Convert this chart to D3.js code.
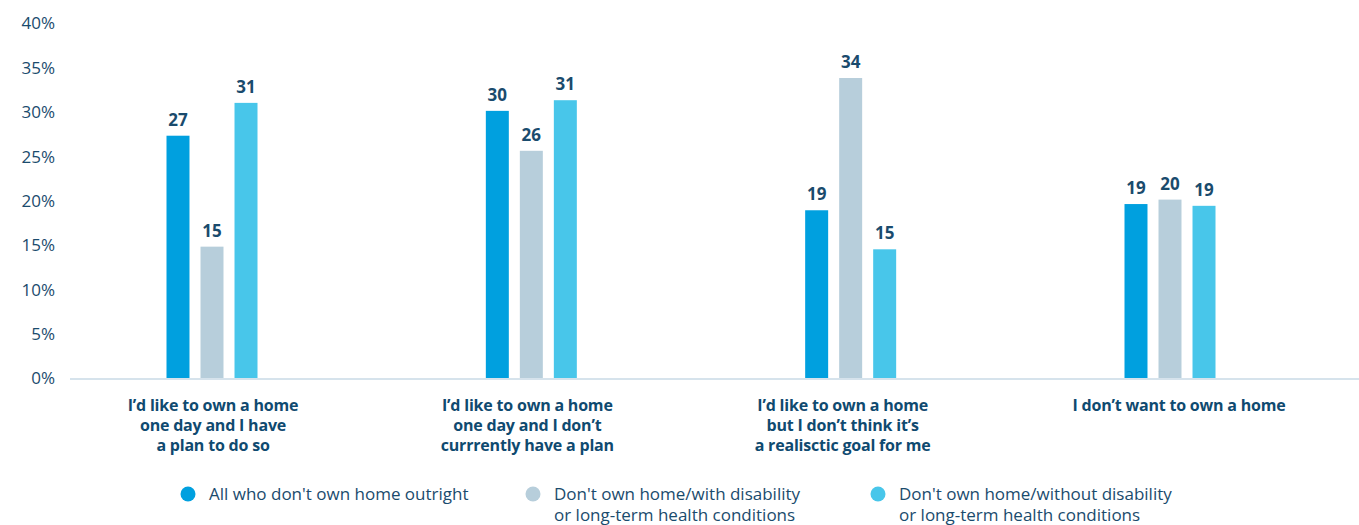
<!DOCTYPE html>
<html>
<head>
<meta charset="utf-8">
<script src="https://cdn.jsdelivr.net/npm/d3@7"></script>
<style>
  html, body { margin: 0; padding: 0; background: #fff; }
  svg { display: block; }
</style>
</head>
<body>
<svg id="chart" width="1359" height="525"></svg>
<script>
// ---- data ----
const categories = [
  ["I\u2019d like to own a home", "one day and I have", "a plan to do so"],
  ["I\u2019d like to own a home", "one day and I don\u2019t", "currrently have a plan"],
  ["I\u2019d like to own a home", "but I don\u2019t think it\u2019s", "a realisctic goal for me"],
  ["I don\u2019t want to own a home"]
];
const categoryKeys = ["plan", "noplan", "unrealistic", "dontwant"];
const seriesNames = [
  ["All who don't own home outright"],
  ["Don't own home/with disability", "or long-term health conditions"],
  ["Don't own home/without disability", "or long-term health conditions"]
];
const seriesKeys = ["all", "withDis", "withoutDis"];
// bar heights (%)
const allValues = [27.3, 30.1, 18.9, 19.6];
const withDisValues = [14.8, 25.6, 33.8, 20.1];
const withoutDisValues = [31.0, 31.3, 14.5, 19.4];
// value labels printed on the chart
const allLabels = [27, 30, 19, 19];
const withDisLabels = [15, 26, 34, 20];
const withoutDisLabels = [31, 31, 15, 19];
const yTicks = [0, 5, 10, 15, 20, 25, 30, 35, 40];

// ---- styles ----
const colors = ["#00a0df", "#b7cedb", "#48c6ea"];
const textColor = "#1a4b6d";
const svg = d3.select("#chart");

const y = d3.scaleLinear().domain([0, 40]).range([378, 23]);
const x = d3.scalePoint().domain(categoryKeys).range([212, 1170]);
const xs = d3.scaleBand().domain(seriesKeys).range([-45.5, 45.5]).paddingInner(0.324).paddingOuter(0);

const valuesBySeries = [allValues, withDisValues, withoutDisValues];
const labelsBySeries = [allLabels, withDisLabels, withoutDisLabels];

// y axis labels
const yAxis = d3.axisLeft(y).tickValues(yTicks).tickFormat(d => d + "%").tickSize(0).tickPadding(0);
const gy = svg.append("g").attr("transform", "translate(55,0)").call(yAxis);
gy.select(".domain").remove();
gy.selectAll("text")
  .attr("fill", textColor)
  .style("font-family", "'Open Sans', 'Noto Sans', sans-serif")
  .style("font-size", "17px")
  .attr("dy", "0.35em");

// baseline
svg.append("line")
  .attr("x1", 70).attr("x2", 1359)
  .attr("y1", y(0) + 1).attr("y2", y(0) + 1)
  .attr("stroke", "#d6e3ec").attr("stroke-width", 2);

// bars
const rows = [];
categoryKeys.forEach((c, i) => {
  seriesKeys.forEach((s, j) => {
    rows.push({ c, s, j, v: valuesBySeries[j][i], label: labelsBySeries[j][i] });
  });
});

svg.append("g").selectAll("rect").data(rows).join("rect")
  .attr("x", d => x(d.c) + xs(d.s))
  .attr("width", xs.bandwidth())
  .attr("y", d => y(d.v))
  .attr("height", d => y(0) - y(d.v))
  .attr("fill", d => colors[d.j]);

svg.append("g").selectAll("text").data(rows).join("text")
  .attr("x", d => x(d.c) + xs(d.s) + xs.bandwidth() / 2)
  .attr("y", d => y(d.v) - 10)
  .attr("text-anchor", "middle")
  .attr("fill", textColor)
  .style("font-family", "'Open Sans', 'Noto Sans', sans-serif")
  .style("font-weight", "700")
  .style("font-size", "17px")
  .text(d => d.label);

// category labels
const labelShift = [1, -4, -8, 9];
const cat = svg.append("g").selectAll("text").data(categoryKeys).join("text")
  .attr("x", (d, i) => x(d) + labelShift[i])
  .attr("y", 411)
  .attr("text-anchor", "middle")
  .attr("fill", "#0f4a70")
  .style("font-family", "'Open Sans', sans-serif")
  .style("font-weight", "700")
  .style("font-size", "16px")
  .style("letter-spacing", "-0.2px");
cat.each(function(d, i) {
  const t = d3.select(this);
  categories[i].forEach((line, k) => {
    t.append("tspan").attr("x", x(d) + labelShift[i]).attr("dy", k === 0 ? 0 : 20).text(line);
  });
});

// legend
const legendX = [188, 533, 878];
const lg = svg.append("g").selectAll("g").data(seriesKeys).join("g")
  .attr("transform", (d, i) => `translate(${legendX[i]},494)`);
lg.append("circle").attr("r", 7.5).attr("fill", (d, i) => colors[i]);
lg.append("text")
  .attr("x", 21)
  .attr("fill", textColor)
  .style("font-family", "'Open Sans', sans-serif")
  .style("font-size", "17px")
  .each(function(d, i) {
    const t = d3.select(this);
    seriesNames[i].forEach((line, k) => {
      t.append("tspan").attr("x", 21).attr("dy", k === 0 ? "0.35em" : 21).text(line);
    });
  });
</script>
</body>
</html>
